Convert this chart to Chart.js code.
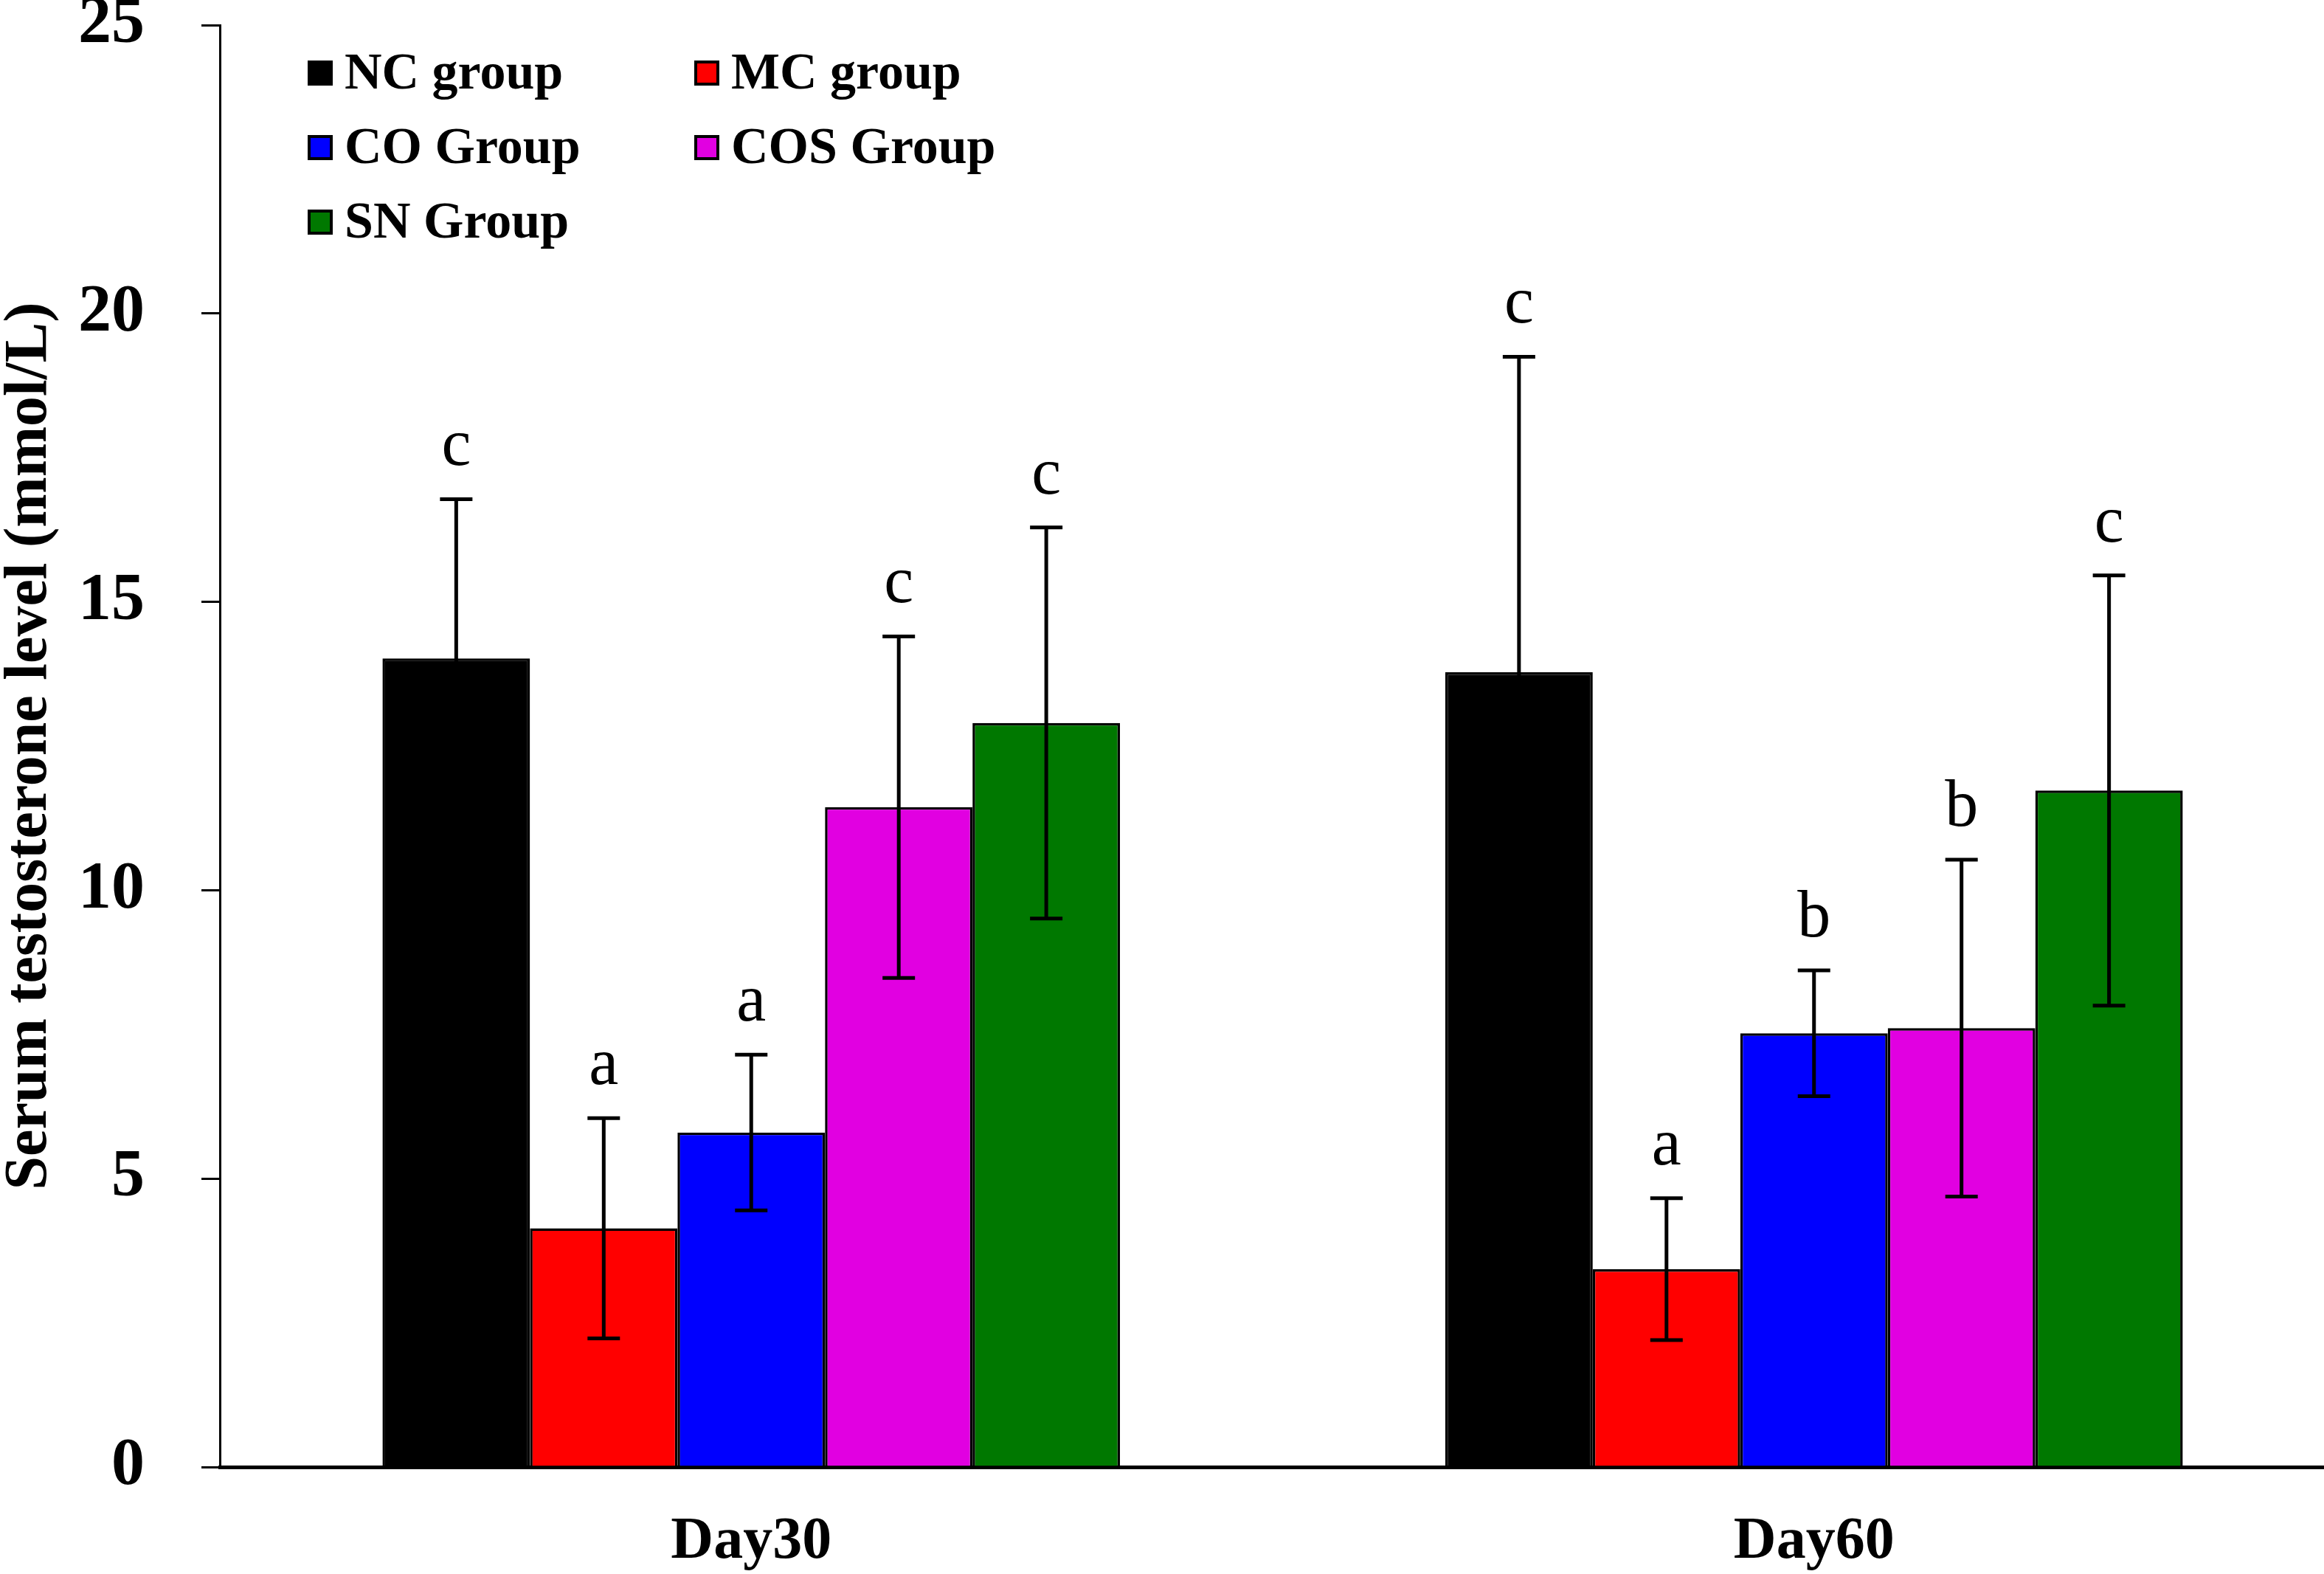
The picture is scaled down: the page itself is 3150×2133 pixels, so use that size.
<!DOCTYPE html>
<html><head><meta charset="utf-8">
<script src="https://cdn.jsdelivr.net/npm/chart.js@4.4.1/dist/chart.umd.min.js"></script>
<style>
html,body{margin:0;padding:0;background:#fff;overflow:hidden}
#wrap{width:3150px;height:2133px;overflow:hidden;position:relative;background:#fff}
#c{position:absolute;left:0;top:0}
</style></head>
<body><div id="wrap"><canvas id="c" width="3180" height="2133" style="width:3180px;height:2133px"></canvas></div>
<script>
const categories = ['Day30', 'Day60'];
const seriesNames = ['NC group', 'MC group', 'CO Group', 'COS Group', 'SN Group'];
const seriesColors = ['#000000', '#ff0000', '#0000ff', '#e100e1', '#007800'];

const ncMean  = [14.02, 13.78];
const mcMean  = [4.14, 3.43];
const coMean  = [5.80, 7.52];
const cosMean = [11.44, 7.61];
const snMean  = [12.90, 11.73];

const ncSD  = [2.76, 5.47];
const mcSD  = [1.91, 1.23];
const coSD  = [1.35, 1.09];
const cosSD = [2.96, 2.92];
const snSD  = [3.39, 3.73];

const ncLetters  = ['c', 'c'];
const mcLetters  = ['a', 'a'];
const coLetters  = ['a', 'b'];
const cosLetters = ['c', 'b'];
const snLetters  = ['c', 'c'];

const yTicks = [0, 5, 10, 15, 20, 25];
const yTitle = 'Serum testosterone level (mmol/L)';

const means = [ncMean, mcMean, coMean, cosMean, snMean];
const sds = [ncSD, mcSD, coSD, cosSD, snSD];
const letters = [ncLetters, mcLetters, coLetters, cosLetters, snLetters];

const FAM = '"Liberation Serif", "Times New Roman", serif';

const overlay = {
  id: 'overlay',
  afterDatasetsDraw(chart) {
    const ctx = chart.ctx, y = chart.scales.y;
    chart.data.datasets.forEach((ds, di) => {
      const meta = chart.getDatasetMeta(di);
      meta.data.forEach((bar, i) => {
        const v = ds.data[i], e = sds[di][i];
        const x = bar.x;
        const yt = y.getPixelForValue(v + e), yb = y.getPixelForValue(v - e);
        ctx.save();
        ctx.strokeStyle = '#000'; ctx.lineWidth = 5; ctx.lineCap = 'butt';
        ctx.beginPath();
        ctx.moveTo(x, yt); ctx.lineTo(x, yb);
        ctx.moveTo(x - 22, yt); ctx.lineTo(x + 22, yt);
        ctx.moveTo(x - 22, yb); ctx.lineTo(x + 22, yb);
        ctx.stroke();
        ctx.font = '90px ' + FAM;
        ctx.textAlign = 'center'; ctx.textBaseline = 'alphabetic'; ctx.fillStyle = '#000';
        ctx.fillText(letters[di][i], x, yt - 46);
        ctx.restore();
      });
    });
  },
  afterDraw(chart) {
    const ctx = chart.ctx, ca = chart.chartArea;
    const colX = [ca.left + 119, ca.left + 643];
    chart.data.datasets.forEach((ds, di) => {
      const col = di % 2, row = Math.floor(di / 2);
      const bx = colX[col], cy = ca.top + 65 + row * 101;
      ctx.save();
      ctx.fillStyle = ds.backgroundColor;
      ctx.fillRect(bx, cy - 17, 34, 34);
      ctx.strokeStyle = '#000'; ctx.lineWidth = 4;
      ctx.strokeRect(bx + 2, cy - 15, 30, 30);
      ctx.font = 'bold 70px ' + FAM;
      ctx.fillStyle = '#000'; ctx.textAlign = 'left'; ctx.textBaseline = 'middle';
      ctx.fillText(ds.label, bx + 50, cy + 3);
      ctx.restore();
    });
  }
};

function build() {
  new Chart(document.getElementById('c'), {
    type: 'bar',
    data: {
      labels: categories,
      datasets: seriesNames.map((n, i) => ({
        label: n,
        data: means[i],
        backgroundColor: seriesColors[i],
        borderColor: '#000',
        borderWidth: 3.5,
        borderSkipped: 'start',
        categoryPercentage: 0.694,
        barPercentage: 1.0
      }))
    },
    options: {
      responsive: false,
      devicePixelRatio: 1,
      animation: false,
      layout: { padding: { top: 34, left: 0, right: 1, bottom: 0 } },
      plugins: { legend: { display: false }, tooltip: { enabled: false } },
      scales: {
        x: {
          type: 'category',
          offset: true,
          grid: { display: false, drawTicks: false },
          border: { display: true, color: '#000', width: 5 },
          ticks: { color: '#000', padding: 54, font: { family: FAM, size: 80, weight: 'bold' } },
          afterFit(s) { s.height = 145; s.paddingLeft = 0; s.paddingRight = 0; }
        },
        y: {
          min: 0, max: 25,
          afterBuildTicks(s) { s.ticks = yTicks.map(v => ({ value: v })); },
          grid: { display: true, drawOnChartArea: false, drawTicks: true, tickLength: 25, color: '#000', lineWidth: 3 },
          border: { display: true, color: '#000', width: 3 },
          ticks: { color: '#000', padding: 77, font: { family: FAM, size: 90, weight: 'bold' } },
          title: { display: true, text: yTitle, color: '#000', padding: { top: 0, bottom: 0 },
                   font: { family: FAM, size: 82, weight: 'bold', lineHeight: 1 } },
          afterFit(s) { s.width = 298; s.paddingTop = 0; s.paddingBottom = 0; }
        }
      }
    },
    plugins: [overlay]
  });
}
if (document.fonts && document.fonts.load) {
  Promise.all([document.fonts.load('bold 80px "Liberation Serif"'), document.fonts.load('90px "Liberation Serif"')])
    .then(build, build);
} else { build(); }
</script>
</body></html>
